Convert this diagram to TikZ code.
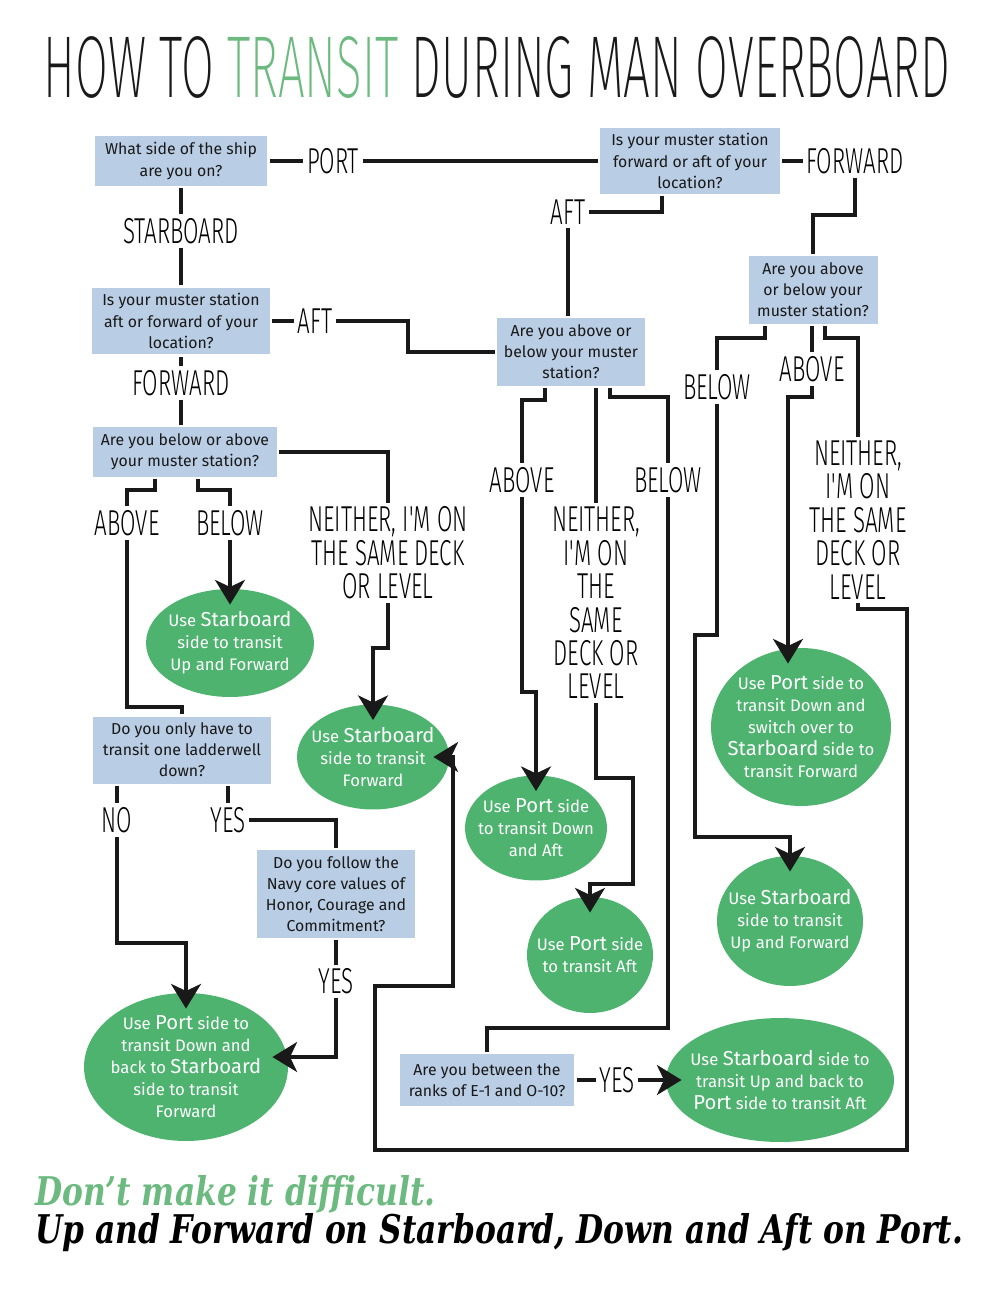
\documentclass[tikz,border=0pt]{standalone}
\usepackage{fontspec}
\setmainfont{Fira Sans}
\newfontfamily\thinfont[FakeStretch=0.62]{Fira Sans Light}
\newfontfamily\titlefont[FakeStretch=0.54]{Fira Sans ExtraLight}
\newfontfamily\tagfont[FakeStretch=0.88]{DejaVu Serif Condensed}
\usetikzlibrary{arrows.meta}
\usetikzlibrary{positioning}
\usetikzlibrary{shapes.geometric}
\definecolor{qblue}{RGB}{185,205,228}
\definecolor{agreen}{RGB}{77,179,111}
\definecolor{tgreen}{RGB}{108,186,128}
\definecolor{ink}{RGB}{25,25,25}
\newcommand{\sidename}[1]{{\fontsize{11.5}{12.5}\selectfont #1}}

\begin{document}
\begin{tikzpicture}[x=0.02cm,y=-0.02cm,line width=2.3pt,color=ink,
					>={Stealth[length=14pt,width=17pt,inset=4pt]}]
					\tikzstyle{question}=[rectangle,fill=qblue,align=center,inner sep=2pt,
					font=\fontsize{9}{12}\selectfont]
					\tikzstyle{answer}=[ellipse,fill=agreen,text=white,align=center,
					inner xsep=-6pt,inner ysep=0pt,font=\fontsize{9.5}{12.5}\selectfont]
					\tikzstyle{choice}=[align=center,inner sep=1pt,text=black,
					font=\thinfont\fontsize{20.5}{19}\selectfont]
					\tikzstyle{flow}=[->,shorten >=-10pt]
					
					\useasboundingbox (0,0) rectangle (1000,1294);
					
					\node[font=\titlefont\fontsize{50}{50}\selectfont] (title) at (497,68)
					{HOW TO \textcolor{tgreen}{TRANSIT} DURING MAN OVERBOARD};
					
					% questions
					\node[question,minimum width=3.46cm,minimum height=1cm]    (Q_1) at (181,161)  {What side of the ship\\are you on?};
					\node[question,minimum width=3.6cm,minimum height=1.32cm]  (Q_2) at (690,161)  {Is your muster station\\forward or aft of your\\location?};
					\node[question,minimum width=3.56cm,minimum height=1.34cm] (Q_3) at (181,321)  {Is your muster station\\aft or forward of your\\location?};
					\node[question,minimum width=2.96cm,minimum height=1.36cm] (Q_4) at (571,352)  {Are you above or\\below your muster\\station?};
					\node[question,minimum width=2.58cm,minimum height=1.36cm] (Q_5) at (813,290)  {Are you above\\or below your\\muster station?};
					\node[question,minimum width=3.68cm,minimum height=1cm]    (Q_6) at (185,452)  {Are you below or above\\your muster station?};
					\node[question,minimum width=3.56cm,minimum height=1.34cm] (Q_7) at (182,750)  {Do you only have to\\transit one ladderwell\\down?};
					\node[question,minimum width=3.18cm,minimum height=1.76cm] (Q_8) at (336,894)  {Do you follow the\\Navy core values of\\Honor, Courage and\\Commitment?};
					\node[question,minimum width=3.5cm,minimum height=1.04cm]  (Q_9) at (487,1080) {Are you between the\\ranks of E-1 and O-10?};
					
					% answers
					\node[answer,minimum width=3.36cm,minimum height=2.16cm] (A_1) at (230,643)  {Use \sidename{Starboard}\\side to transit\\Up and Forward};
					\node[answer,minimum width=3.04cm,minimum height=2.1cm]  (A_2) at (373,757)  {Use \sidename{Starboard}\\side to transit\\Forward};
					\node[answer,minimum width=2.84cm,minimum height=2.1cm]  (A_3) at (536,828)  {Use \sidename{Port} side\\to transit Down\\and Aft};
					\node[answer,minimum width=2.52cm,minimum height=2.32cm] (A_4) at (590,955)  {Use \sidename{Port} side\\to transit Aft};
					\node[answer,minimum width=3.6cm,minimum height=3.16cm]  (A_5) at (801,727)  {Use \sidename{Port} side to\\transit Down and\\switch over to\\\sidename{Starboard} side to\\transit Forward};
					\node[answer,minimum width=2.92cm,minimum height=2.6cm]  (A_6) at (790,921)  {Use \sidename{Starboard}\\side to transit\\Up and Forward};
					\node[answer,minimum width=4.08cm,minimum height=2.96cm] (A_7) at (186,1067) {Use \sidename{Port} side to\\transit Down and\\back to \sidename{Starboard}\\side to transit\\Forward};
					\node[answer,minimum width=4.56cm,minimum height=2.48cm] (A_8) at (780,1080) {Use \sidename{Starboard} side to\\transit Up and back to\\\sidename{Port} side to transit Aft};
					
					% choices
					\node[choice] (port)      at (333,161) {PORT};
					\node[choice] (starboard) at (181,231) {STARBOARD};
					\node[choice] (fwd_1)     at (855,161) {FORWARD};
					\node[choice] (aft_1)     at (568,212) {AFT};
					\node[choice] (aft_2)     at (315,321) {AFT};
					\node[choice] (fwd_2)     at (181,383) {FORWARD};
					\node[choice] (above_1)   at (127,523) {ABOVE};
					\node[choice] (below_1)   at (230,523) {BELOW};
					\node[choice] (neither_1) at (388,553) {NEITHER, I'M ON\\THE SAME DECK\\OR LEVEL};
					\node[choice] (no)        at (117,820) {NO};
					\node[choice] (yes_1)     at (228,820) {YES};
					\node[choice] (yes_2)     at (336,981) {YES};
					\node[choice] (above_2)   at (522,480) {ABOVE};
					\node[choice] (neither_2) at (596,603) {NEITHER,\\I'M ON\\THE\\SAME\\DECK OR\\LEVEL};
					\node[choice] (below_2)   at (668,480) {BELOW};
					\node[choice] (below_3)   at (717,387) {BELOW};
					\node[choice] (above_3)   at (812,369) {ABOVE};
					\node[choice] (neither_3) at (858,520) {NEITHER,\\I'M ON\\THE SAME\\DECK OR\\LEVEL};
					\node[choice] (yes_3)     at (617,1080) {YES};
					
					% connectors
					\draw (Q_1) -- (port) -- (Q_2);
					\draw (Q_1) -- (starboard) -- (Q_3);
					\draw (Q_2) -- (fwd_1);
					\draw (fwd_1) |- (813,215) -- (Q_5);
					\draw (Q_2.south -| 662,0) |- (aft_1);
					\draw (aft_1) -- (aft_1 |- Q_4.north);
					\draw (Q_3) -- (aft_2) -- (408,321) |- (Q_4);
					\draw (Q_3) -- (fwd_2) -- (fwd_2 |- Q_6.north);
					
					\draw (Q_6) -| (neither_1);
					\draw[flow] (neither_1) |- (373,648) -- (A_2);
					\draw (Q_6.south -| 155,0) |- (127,490) -- (above_1) -- (127,707) -| (Q_7);
					\draw[flow] (Q_6.south -| 198,0) |- (230,490) -- (below_1) -- (A_1);
					\draw[flow] (Q_7.south -| 117,0) -- (no) |- (186,943) -- (A_7);
					\draw (Q_7.south -| 228,0) -- (yes_1) -| (Q_8);
					\draw[flow] (Q_8) -- (yes_2) |- ([yshift=0.2cm]A_7.east);
					
					\draw[flow] (Q_4.south -| 545,0) |- (522,400) -- (above_2) -- (522,692) -| (A_3);
					\draw[flow] (Q_4.south -| 596,0) -- (neither_2) |- (633,778) |- (590,884) -- (A_4);
					\draw (Q_4.south -| 610,0) |- (668,397) -- (below_2) |- (487,1028) -- (Q_9);
					\draw[flow] (Q_9) -- (yes_3) -- (A_8);
					
					\draw[flow] (Q_5.south -| 765,0) |- (717,338) -- (below_3) |- (695,635) |- (790,837) -- (A_6);
					\draw[flow] (Q_5.south -| above_3) -- (above_3) |- (788,397) -- (A_5.north -| 788,0);
					\draw[flow] (Q_5.south -| 825,0) |- (858,338) -- (neither_3) |- (907,609) |- (375,1150) |- (453,986) |- (A_2);
					
					% motto
					\node[anchor=base west,inner sep=0,text=tgreen,font=\tagfont\bfseries\itshape\fontsize{22.5}{22.5}\selectfont]
					(motto_1) at (33,1205) {Don’t make it difficult.};
					\node[anchor=base west,inner sep=0,text=black,font=\tagfont\bfseries\itshape\fontsize{22.5}{22.5}\selectfont]
					(motto_2) at (33,1243) {Up and Forward on Starboard, Down and Aft on Port.};
					\end{tikzpicture}
\end{document}
